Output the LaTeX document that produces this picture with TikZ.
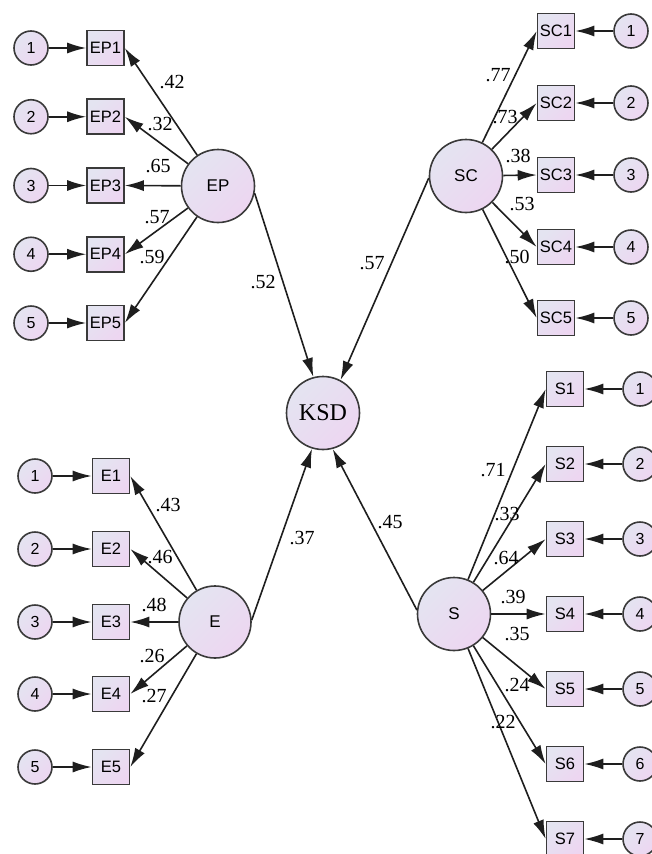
\documentclass[tikz,border=0pt]{standalone}
\usepackage{fontspec}
\setmainfont{Liberation Serif}
\setsansfont{Liberation Sans}
\usetikzlibrary{arrows.meta}
\definecolor{shA}{HTML}{E4E4F1}
\definecolor{shB}{HTML}{EDD6F1}
\definecolor{bord}{HTML}{3A3A3A}
\definecolor{ln}{HTML}{1E1E1E}
\tikzset{
  fillsh/.style={top color=shA, bottom color=shB, shading angle=45},
  obs/.style={rectangle, draw=bord, line width=1.6pt, fillsh, minimum width=37pt, minimum height=35pt, inner sep=0pt, font=\sffamily\fontsize{16.5}{16.5}\selectfont},
  err/.style={circle, draw=bord, line width=1.6pt, fillsh, minimum size=34pt, inner sep=0pt, font=\sffamily\fontsize{16}{16}\selectfont},
  lat/.style={circle, draw=bord, line width=1.6pt, fillsh, minimum size=73pt, inner sep=0pt, font=\sffamily\fontsize{17}{17}\selectfont},
  coef/.style={inner sep=0pt, font=\fontsize{20}{20}\selectfont},
  arr/.style={draw=ln, line width=1.6pt, -{Latex[length=19pt,width=11pt]}}
}
\begin{document}
\begin{tikzpicture}[x=1pt,y=-1pt]
\useasboundingbox (0,0) rectangle (651,854);
% KSD
\node[lat, font=\fontsize{24}{24}\selectfont] (KSD) at (323,413) {KSD};
% EP group
\node[lat] (EP) at (218,186) {EP};
\foreach \i/\y in {1/48,2/116.75,3/185.5,4/254.25,5/323}{
  \node[obs] (EP\i) at (105.5,\y) {EP\i};
  \node[err] (eEP\i) at (31,\y) {\i};
  \draw[arr] (eEP\i) -- (EP\i);
  \draw[arr] (EP) -- (EP\i.east);
}
% SC group
\node[lat] (SC) at (466,176) {SC};
\foreach \i/\y in {1/31,2/103,3/175,4/247,5/318}{
  \node[obs] (SC\i) at (556,\y) {SC\i};
  \node[err] (eSC\i) at (631,\y) {\i};
  \draw[arr] (eSC\i) -- (SC\i);
  \draw[arr] (SC) -- (SC\i.west);
}
% E group
\node[lat, minimum size=72pt] (E) at (215,622) {E};
\foreach \i/\y in {1/476,2/549,3/622,4/694,5/767}{
  \node[obs] (E\i) at (111,\y) {E\i};
  \node[err] (eE\i) at (35,\y) {\i};
  \draw[arr] (eE\i) -- (E\i);
  \draw[arr] (E) -- (E\i.east);
}
% S group
\node[lat] (S) at (454,614) {S};
\foreach \i/\y in {1/389,2/464,3/539,4/614,5/689,6/764,7/839}{
  \node[obs] (S\i) at (565,\y) {S\i};
  \node[err] (eS\i) at (640,\y) {\i};
  \draw[arr] (eS\i) -- (S\i);
  \draw[arr] (S) -- (S\i.west);
}
% structural paths
\draw[arr] (EP.-11) -- (KSD.105.5);
\draw[arr] (SC.183) -- (KSD.62);
\draw[arr] (E.3) -- (KSD.253);
\draw[arr] (S.174) -- (KSD.285);
% coefficient labels
\node[coef] (lEP1) at (172,82) {.42};
\node[coef] (lEP2) at (160,124) {.32};
\node[coef] (lEP3) at (158,166) {.65};
\node[coef] (lEP4) at (157,217) {.57};
\node[coef] (lEP5) at (152,257) {.59};
\node[coef] (lEPK) at (263,282) {.52};
\node[coef] (lSC1) at (498,75) {.77};
\node[coef] (lSC2) at (505,117) {.73};
\node[coef] (lSC3) at (518,156) {.38};
\node[coef] (lSC4) at (522,204) {.53};
\node[coef] (lSC5) at (517,257) {.50};
\node[coef] (lSCK) at (372,263) {.57};
\node[coef] (lE1) at (168,505) {.43};
\node[coef] (lE2) at (160,557) {.46};
\node[coef] (lE3) at (154,605) {.48};
\node[coef] (lE4) at (152,656) {.26};
\node[coef] (lE5) at (154,696) {.27};
\node[coef] (lEK) at (302,538) {.37};
\node[coef] (lS1) at (493,470) {.71};
\node[coef] (lS2) at (507,514) {.33};
\node[coef] (lS3) at (506,558) {.64};
\node[coef] (lS4) at (513,597) {.39};
\node[coef] (lS5) at (517,634) {.35};
\node[coef] (lS6) at (517,685) {.24};
\node[coef] (lS7) at (503,722) {.22};
\node[coef] (lSK) at (390,522) {.45};
\end{tikzpicture}
\end{document}
